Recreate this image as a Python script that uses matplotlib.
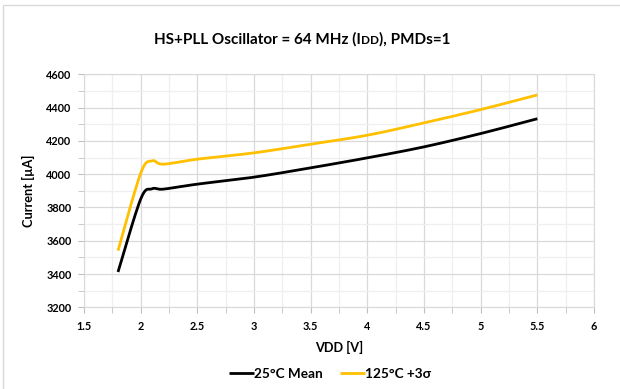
import numpy as np
import matplotlib.pyplot as plt
from matplotlib.patches import Rectangle

# data
vdd = [1.8, 2.0, 2.1, 2.2, 2.5, 3.0, 3.5, 4.0, 4.5, 5.0, 5.5]
mean_25c = [3412, 3850, 3912, 3910, 3940, 3982, 4038, 4098, 4164, 4244, 4333]
max_125c = [3540, 4005, 4080, 4060, 4090, 4128, 4180, 4234, 4308, 4388, 4476]
series_names = ['25°C Mean', '125°C +3σ']
series_colors = ['#000000', '#FFC000']


def smooth(x, y, n=20):
    # Excel-style smoothed line (Catmull-Rom through the points)
    x = np.asarray(x, float)
    y = np.asarray(y, float)
    px = np.concatenate([[x[0]], x, [x[-1]]])
    py = np.concatenate([[y[0]], y, [y[-1]]])
    xs, ys = [], []
    for i in range(1, len(px) - 2):
        t = np.linspace(0, 1, n, endpoint=False)
        for p, out in ((px, xs), (py, ys)):
            p0, p1, p2, p3 = p[i-1], p[i], p[i+1], p[i+2]
            m1 = (p2 - p0) / 2
            m2 = (p3 - p1) / 2
            h00 = 2*t**3 - 3*t**2 + 1
            h10 = t**3 - 2*t**2 + t
            h01 = -2*t**3 + 3*t**2
            h11 = t**3 - t**2
            out.extend(h00*p1 + h10*m1 + h01*p2 + h11*m2)
    xs.append(x[-1])
    ys.append(y[-1])
    return xs, ys


plt.rcParams['font.family'] = ['Lato', 'DejaVu Sans']
plt.rcParams['font.weight'] = 'bold'

fig = plt.figure(figsize=(6.2, 3.89), dpi=100)
fig.patches.append(Rectangle((3/620, -0.1), 1.2, 1 - 5/389 + 0.1, transform=fig.transFigure,
                             fill=False, edgecolor='#d9d9d9', lw=1))
ax = fig.add_axes([84/620, 1 - 307.3/389, (594 - 84)/620, (307.3 - 74.3)/389])

for ys, name, c in zip([mean_25c, max_125c], series_names, series_colors):
    sx, sy = smooth(vdd, ys)
    ax.plot(sx, sy, color=c, lw=2, label=name, solid_capstyle='butt')

ax.set_xlim(1.5, 6)
ax.set_ylim(3200, 4600)
ax.set_xticks(np.arange(1.5, 6.01, 0.5))
ax.set_xticklabels(['1.5', '2', '2.5', '3', '3.5', '4', '4.5', '5', '5.5', '6'])
ax.set_yticks(np.arange(3200, 4601, 200))
ax.set_xticks(np.arange(1.5, 6.01, 0.25), minor=True)
ax.set_yticks(np.arange(3200, 4601, 100), minor=True)
ax.grid(which='major', color='#d9d9d9', lw=0.9)
ax.grid(which='minor', color='#efefef', lw=0.9)
ax.set_axisbelow(True)
for s in ax.spines.values():
    s.set_color('#d9d9d9')
ax.tick_params(which='both', colors='#bfbfbf', labelcolor='black', labelsize=7.8, length=4, direction='out')
ax.tick_params(axis='y', pad=5)
ax.tick_params(axis='x', pad=6)
for lab in ax.get_xticklabels() + ax.get_yticklabels():
    lab.set_fontweight('bold')

ax.set_xlabel('VDD [V]', fontsize=9.2, fontweight='bold', labelpad=6)
ax.set_ylabel('Current [µA]', fontsize=9.2, fontweight='bold', labelpad=8)

# title with small-caps "IDD"
fig.canvas.draw()
r = fig.canvas.get_renderer()
ty = 1 - 44/389
parts = [('HS+PLL Oscillator = 64 MHz (I', 11), ('DD', 8.5), ('), PMDs=1', 11)]
widths = []
texts = []
for s, fs in parts:
    t = fig.text(0, ty, s, fontsize=fs, fontweight='bold', va='baseline', ha='left')
    texts.append(t)
    widths.append(t.get_window_extent(r).width / fig.bbox.width)
x0 = 302/620 - sum(widths) / 2
for t, w in zip(texts, widths):
    t.set_x(x0)
    x0 += w

fig.legend(loc='center', bbox_to_anchor=(330/620, 1 - 374/389), ncol=2, frameon=False,
           fontsize=9.8, handlelength=1.85, handletextpad=0.05, columnspacing=1.2)

fig.savefig('out.png', dpi=100)
